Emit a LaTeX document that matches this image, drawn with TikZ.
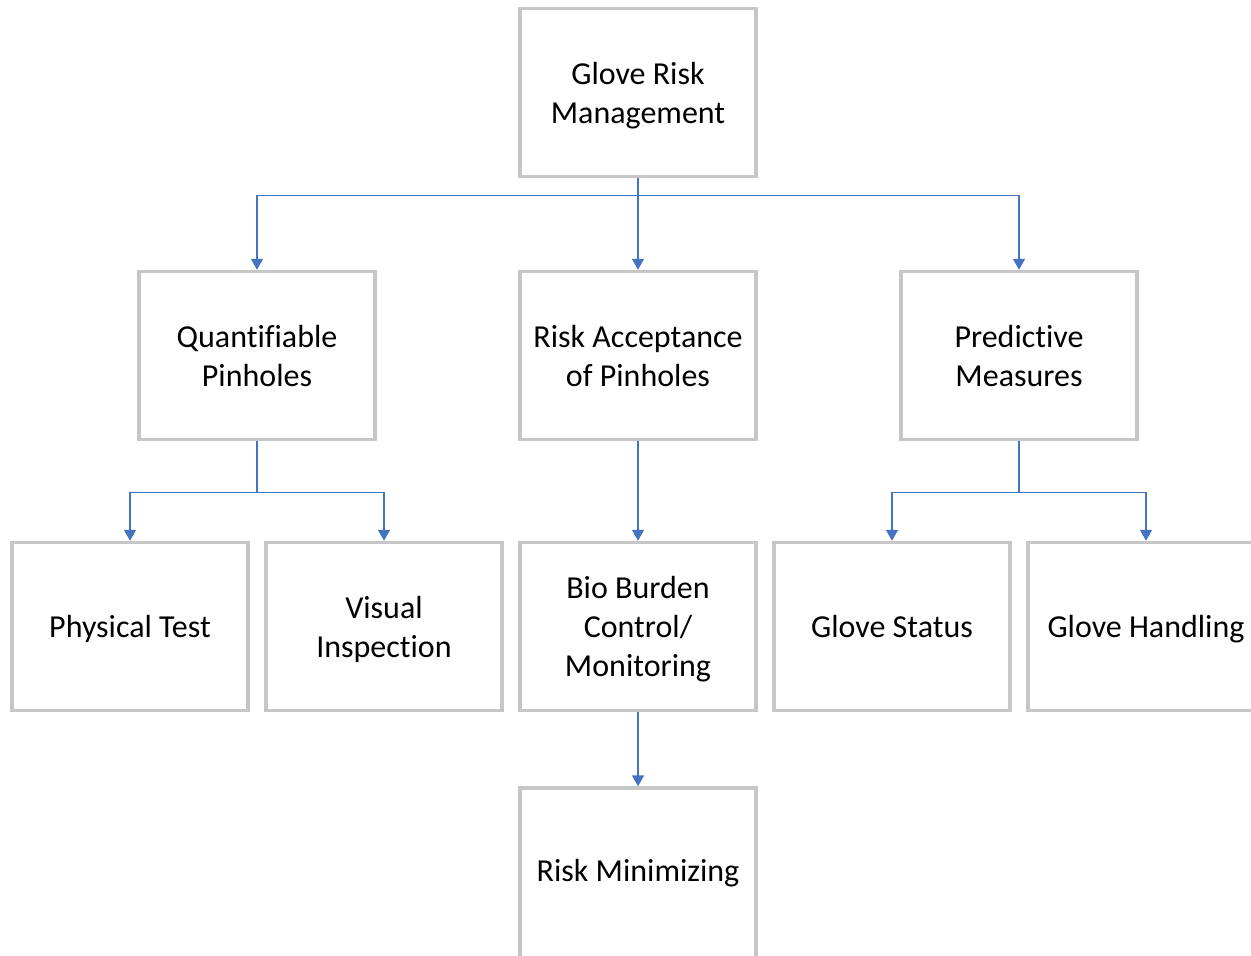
\documentclass[tikz,border=0pt]{standalone}
\usepackage{fontspec}
\setmainfont{Carlito}[Ligatures=NoCommon]
\usetikzlibrary{arrows.meta}
\definecolor{boxgray}{RGB}{198,198,198}
\definecolor{linkblue}{RGB}{68,114,196}
\tikzset{
  box/.style={draw=boxgray, line width=3.5pt, fill=white, minimum width=236pt, minimum height=168pt,
    inner sep=0pt, align=center, font=\fontsize{32}{39}\selectfont, text=black, text depth=0pt},
  link/.style={draw=linkblue, line width=1.5pt},
  arr/.style={link, -{Triangle[width=12pt,length=11pt]}}
}
\begin{document}
\begin{tikzpicture}[x=1pt,y=-1pt]
\clip (0,0) rectangle (1251,956);
\fill[white] (0,0) rectangle (1251,956);
\node[box] (top) at (638,92.5) {Glove Risk\\Management};
\node[box] (qp) at (257,355.5) {Quantifiable\\Pinholes};
\node[box] (rap) at (638,355.5) {Risk Acceptance\\of Pinholes};
\node[box] (pm) at (1019,355.5) {Predictive\\Measures};
\node[box] (pt) at (130,626.5) {Physical Test};
\node[box] (vi) at (384,626.5) {Visual\\Inspection};
\node[box] (bb) at (638,626.5) {Bio Burden\\Control/\\Monitoring};
\node[box] (gs) at (892,626.5) {Glove Status};
\node[box] (gh) at (1146,626.5) {Glove Handling};
\node[box, minimum height=176pt, text depth=10.5pt] (rm) at (638,876) {Risk Minimizing};
\draw[arr] (top.south) -- (rap.north);
\draw[arr] (top.south) -- ++(0,17) -| (qp.north);
\draw[arr] (top.south) -- ++(0,17) -| (pm.north);
\draw[arr] (qp.south) -- ++(0,51) -| (pt.north);
\draw[arr] (qp.south) -- ++(0,51) -| (vi.north);
\draw[arr] (rap.south) -- (bb.north);
\draw[arr] (pm.south) -- ++(0,51) -| (gs.north);
\draw[arr] (pm.south) -- ++(0,51) -| (gh.north);
\draw[arr] (bb.south) -- (rm.north);
\end{tikzpicture}
\end{document}
